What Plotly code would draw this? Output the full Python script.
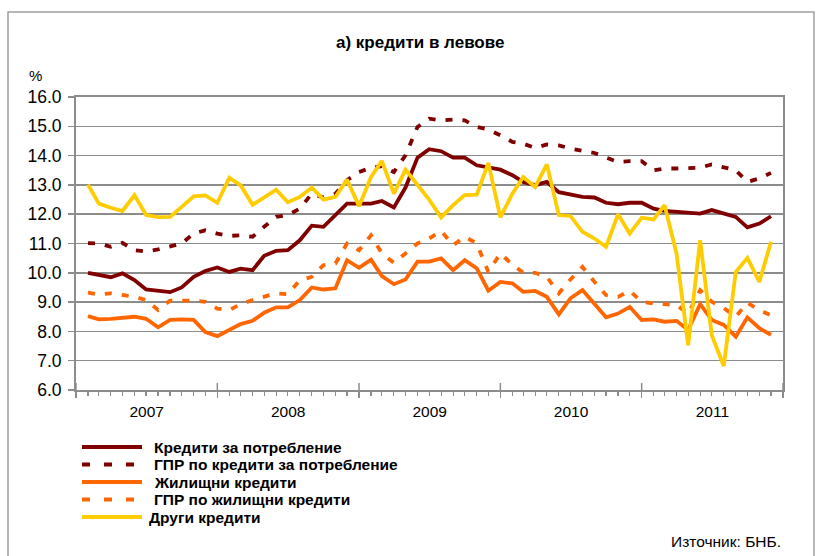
import plotly.graph_objects as go
import pandas as pd

# ---------------- data ----------------
months = pd.date_range("2007-02-01", "2011-12-01", freq="MS")

consumer = [10.0, 9.92, 9.85, 9.98, 9.75, 9.43, 9.39, 9.34, 9.5, 9.86, 10.06, 10.18,
            10.03, 10.14, 10.09, 10.58, 10.75, 10.77, 11.11, 11.61, 11.57, 11.97, 12.36, 12.36,
            12.36, 12.45, 12.23, 12.91, 13.93, 14.22, 14.15, 13.93, 13.93, 13.67, 13.59, 13.52,
            13.33, 13.1, 12.99, 13.1, 12.75, 12.67, 12.59, 12.57, 12.39, 12.34, 12.39, 12.39,
            12.19, 12.11, 12.08, 12.08, 12.02, 12.14, 12.02, 11.91, 11.55, 11.68, 11.93]

consumer_apr = [11.01, 11.0, 10.89, 11.02, 10.77, 10.73, 10.8, 10.89, 11.0, 11.34, 11.45, 11.34,
                11.26, 11.28, 11.23, 11.57, 11.91, 11.97, 12.19, 12.7, 12.57, 12.7, 13.16, 13.44,
                13.59, 13.64, 13.44, 14.01, 14.98, 15.26, 15.2, 15.23, 15.2, 14.98, 14.89, 14.69,
                14.47, 14.41, 14.26, 14.38, 14.35, 14.24, 14.18, 14.09, 13.93, 13.78, 13.81, 13.81,
                13.5, 13.56, 13.56, 13.59, 13.59, 13.7, 13.61, 13.5, 13.1, 13.22, 13.41]

housing = [8.52, 8.41, 8.43, 8.48, 8.5, 8.43, 8.14, 8.39, 8.41, 8.39, 7.98, 7.84,
           8.05, 8.25, 8.36, 8.64, 8.82, 8.82, 9.07, 9.5, 9.43, 9.47, 10.43, 10.17,
           10.45, 9.89, 9.61, 9.77, 10.38, 10.38, 10.49, 10.09, 10.43, 10.15, 9.39, 9.69,
           9.64, 9.35, 9.38, 9.18, 8.58, 9.13, 9.41, 8.93, 8.48, 8.61, 8.84, 8.39,
           8.41, 8.33, 8.36, 8.05, 8.93, 8.39, 8.22, 7.82, 8.48, 8.11, 7.88]

housing_apr = [9.32, 9.26, 9.3, 9.23, 9.18, 9.07, 8.73, 9.05, 9.05, 9.05, 9.01, 8.78,
               8.73, 8.93, 9.07, 9.18, 9.3, 9.27, 9.75, 9.86, 10.26, 10.32, 11.0, 10.77,
               11.28, 10.66, 10.34, 10.66, 11.0, 11.17, 11.43, 10.94, 11.23, 11.0, 10.03, 10.66,
               10.28, 10.0, 10.0, 9.86, 9.3, 9.77, 10.2, 9.69, 9.24, 9.18, 9.39, 9.01,
               8.95, 8.93, 8.9, 8.61, 9.41, 9.01, 8.8, 8.5, 8.98, 8.73, 8.55]

other = [13.01, 12.36, 12.22, 12.11, 12.65, 11.97, 11.9, 11.91, 12.25, 12.61, 12.64, 12.39,
         13.24, 12.99, 12.32, 12.59, 12.84, 12.41, 12.59, 12.91, 12.5, 12.59, 13.18, 12.27,
         13.27, 13.82, 12.7, 13.52, 12.99, 12.5, 11.89, 12.31, 12.65, 12.67, 13.75, 11.89,
         12.7, 13.27, 12.93, 13.7, 11.97, 11.94, 11.4, 11.17, 10.89, 12.0, 11.34, 11.88,
         11.82, 12.31, 10.66, 7.53, 11.11, 7.87, 6.82, 10.03, 10.51, 9.69, 11.06]

names = ["Кредити за потребление", "ГПР по кредити за потребление", "Жилищни кредити",
         "ГПР по жилищни кредити", "Други кредити"]
years = ["2007", "2008", "2009", "2010", "2011", "2012"]

title_text = "а) кредити в левове"
source_text = "Източник: БНБ."

# ---------------- style ----------------
DARK = "#800000"
ORANGE = "#FF6600"
YELLOW = "#FFCC00"
GRID = "#8c8c8c"
FONT = "Liberation Sans, Arial, sans-serif"
W, H = 816, 556
L, R, T, B = 76, 783, 97, 390   # plot area in pixels

def px_x(p):
    return (p - L) / (R - L)

def px_y(p):
    return (B - p) / (B - T)

series = [
    (names[0], consumer, DARK, "solid"),
    (names[1], consumer_apr, DARK, "7px,10px"),
    (names[2], housing, ORANGE, "solid"),
    (names[3], housing_apr, ORANGE, "7px,10px"),
    (names[4], other, YELLOW, "solid"),
]

fig = go.Figure()
for name, vals, col, dash in series:
    fig.add_trace(go.Scatter(x=months, y=vals, mode="lines", name=name,
                             line=dict(color=col, width=3.8, dash=dash),
                             showlegend=False, hoverinfo="skip"))

fig.update_layout(
    width=W, height=H,
    margin=dict(l=L, r=W - R, t=T, b=H - B),
    paper_bgcolor="white", plot_bgcolor="white",
    font=dict(family=FONT, color="black"),
)

fig.update_xaxes(
    type="date",
    range=[years[0] + "-01-01", years[-1] + "-01-01"],
    tick0=years[0] + "-01-01", dtick="M12",
    tickformat="%Y", ticklabelmode="period",
    ticks="outside", ticklen=6, tickwidth=1.5, tickcolor=GRID,
    tickfont=dict(size=15.5),
    showgrid=False, showline=True, linecolor=GRID, linewidth=2, mirror=True,
    minor=dict(dtick="M1", tick0=years[0] + "-01-01", ticks="outside", ticklen=4,
               tickwidth=1.2, tickcolor=GRID, showgrid=False),
    zeroline=False,
)
fig.update_yaxes(
    range=[6, 16], dtick=1, tick0=6, tickformat=".1f",
    ticks="outside", ticklen=6, tickwidth=1.5, tickcolor=GRID,
    tickfont=dict(size=17.5), ticklabelstandoff=3,
    showgrid=True, gridcolor=GRID, gridwidth=1.5,
    showline=True, linecolor=GRID, linewidth=2, mirror=True,
    zeroline=False,
)

shapes = []
# upward part of the year ticks
for yv in years:
    shapes.append(dict(type="line", xref="x", yref="paper",
                       x0=yv + "-01-01", x1=yv + "-01-01", y0=0, y1=px_y(B - 7),
                       line=dict(color=GRID, width=1.5)))
# outer frame
shapes.append(dict(type="rect", xref="paper", yref="paper",
                   x0=px_x(8), x1=px_x(814), y0=px_y(12), y1=px_y(H + 10),
                   line=dict(color="#a0a0a0", width=1.5), layer="below"))

# legend
leg_rows = [447, 464.5, 482, 499.5, 517]
ann = []
for (name, vals, col, dash), yy in zip(series, leg_rows):
    shapes.append(dict(type="line", xref="paper", yref="paper",
                       x0=px_x(82), x1=px_x(142), y0=px_y(yy), y1=px_y(yy),
                       line=dict(color=col, width=4, dash="8px,14px" if dash != "solid" else "solid")))
    tx = 147 if name == names[4] else 152
    ann.append(dict(text="<b>" + name + "</b>", xref="paper", yref="paper",
                    x=px_x(tx), y=px_y(yy), xanchor="left", yanchor="middle",
                    showarrow=False, font=dict(size=15.5, family=FONT)))

ann.append(dict(text="<b>" + title_text + "</b>", xref="paper", yref="paper",
                x=px_x(419.5), y=px_y(42), xanchor="center", yanchor="middle",
                showarrow=False, font=dict(size=17, family=FONT)))
ann.append(dict(text="%", xref="paper", yref="paper",
                x=px_x(35), y=px_y(75), xanchor="center", yanchor="middle",
                showarrow=False, font=dict(size=15, family=FONT)))
ann.append(dict(text=source_text, xref="paper", yref="paper",
                x=px_x(783), y=px_y(541), xanchor="right", yanchor="middle",
                showarrow=False, font=dict(size=15.5, family=FONT)))

fig.update_layout(shapes=shapes, annotations=ann)
fig.write_html("out.html", post_script="document.body.style.margin='0px';",
               config={"displayModeBar": False, "staticPlot": True})
